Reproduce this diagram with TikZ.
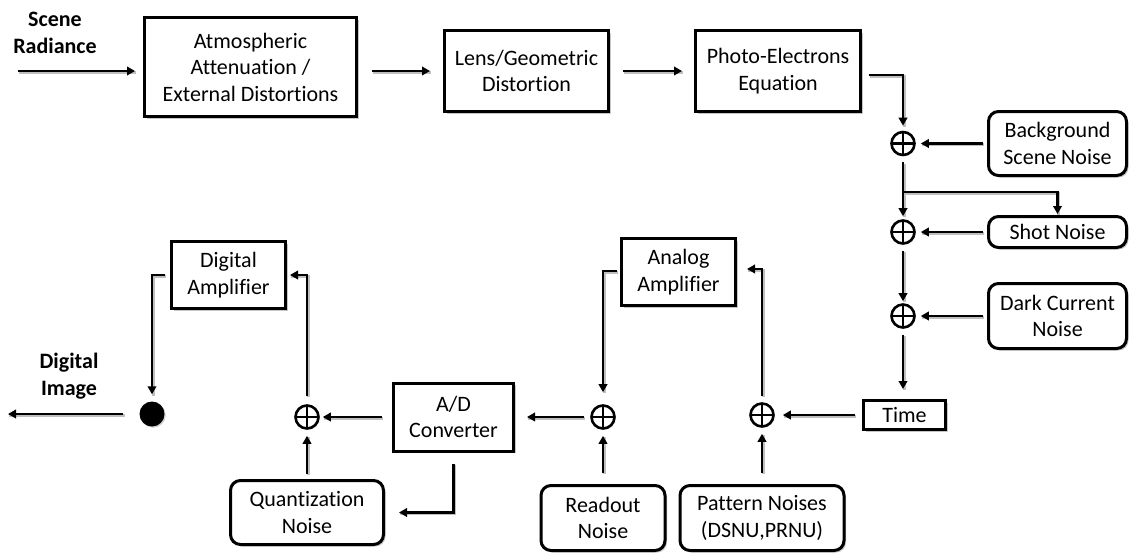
\documentclass[tikz,border=0pt]{standalone}
\usepackage{fontspec}
\setmainfont[Ligatures=NoCommon]{Carlito}
\usetikzlibrary{arrows.meta,shadows}

\begin{document}
\begin{tikzpicture}[x=1pt,y=-1pt,
  lbl/.style={font={\fontsize{22}{26.5}\selectfont}, align=center},
  boldlbl/.style={font={\fontsize{22}{26.5}\selectfont\bfseries}, align=center},
  blk/.style={lbl, draw, line width=3pt, inner sep=0pt, fill=white,
    drop shadow={shadow xshift=2pt, shadow yshift=-2pt, fill=black!50, opacity=0.45}},
  sqbox/.style={blk},
  rbox/.style={blk, rounded corners=10pt},
  sumnode/.style={circle, draw, line width=2.6pt, minimum size=23pt, inner sep=0pt, fill=white,
    drop shadow={shadow xshift=1.2pt, shadow yshift=-1.2pt, fill=black!45, opacity=0.4},
    path picture={\draw[line width=2.6pt]
      (path picture bounding box.north) -- (path picture bounding box.south)
      (path picture bounding box.west) -- (path picture bounding box.east);}},
  conn/.style={line width=2.8pt, -{Triangle[length=8pt,width=8.5pt]},
    preaction={draw=black!25, line width=2.8pt, -, transform canvas={shift={(1.2pt,-1.2pt)}}}},
]
\useasboundingbox (0,0) rectangle (1129,554);

% input label and optical chain
\node[boldlbl] (scene) at (55,33) {Scene\\Radiance};
\coordinate (src) at (18,71);
\node[sqbox, minimum width=212pt, minimum height=99pt] (atm) at (250.5,67)
  {Atmospheric\\Attenuation /\\External Distortions};
\node[sqbox, minimum width=164pt, minimum height=81pt] (lens) at (526.5,71)
  {Lens/Geometric\\Distortion};
\node[sqbox, minimum width=165pt, minimum height=81pt] (pe) at (778,71)
  {Photo-Electrons\\Equation};

% sensor noise column
\node[sumnode] (s1) at (903,143.5) {};
\node[sumnode] (s2) at (903,232) {};
\node[sumnode] (s3) at (903,316) {};
\node[rbox, minimum width=138pt, minimum height=64pt] (bg) at (1057.5,143.5)
  {Background\\Scene Noise};
\node[rbox, minimum width=138pt, minimum height=31pt] (shot) at (1057.5,232)
  {Shot Noise};
\node[rbox, minimum width=138pt, minimum height=65pt] (dark) at (1057.5,316)
  {Dark Current\\Noise};
\node[sqbox, minimum width=82pt, minimum height=29pt] (time) at (904.5,415) {Time};
\path (s1) ++(0,48.5) coordinate (br);

% readout chain
\node[sumnode] (s4) at (762,415) {};
\node[sumnode] (s5) at (603,417) {};
\node[sumnode] (s6) at (307,417) {};
\node[sqbox, minimum width=114pt, minimum height=67pt] (analog) at (678.5,272)
  {Analog\\Amplifier};
\node[sqbox, minimum width=114pt, minimum height=67pt] (dig) at (228.5,275)
  {Digital\\Amplifier};
\node[sqbox, minimum width=120pt, minimum height=68pt] (ad) at (453.5,417)
  {A/D\\Converter};
\node[rbox, minimum width=153pt, minimum height=64pt] (quant) at (307,512.5)
  {Quantization\\Noise};
\node[rbox, minimum width=124pt, minimum height=65pt] (readout) at (603,518)
  {Readout\\Noise};
\node[rbox, minimum width=164pt, minimum height=65pt] (pattern) at (762,518)
  {Pattern Noises\\(DSNU,PRNU)};

% output
\node[circle, fill=black, minimum size=25pt, inner sep=0pt,
  drop shadow={shadow xshift=1.2pt, shadow yshift=-1.2pt, fill=black!45, opacity=0.4}] (dot) at (152,414) {};
\node[boldlbl] (outlbl) at (69,376) {Digital\\Image};
\coordinate (dst) at (8,414);

% connectors
\draw[conn, shorten >=8pt] (src) -- (src -| atm.west);
\draw[conn, shorten <=14pt, shorten >=13pt] (atm.east |- lens.west) -- (lens.west);
\draw[conn, shorten <=13pt, shorten >=12pt] (lens.east) -- (pe.west);
\draw[conn, shorten <=7pt, shorten >=5pt] ([yshift=-4pt]pe.east) -| (s1.north);
\draw[conn, shorten <=4pt, shorten >=5pt] (bg.west) -- (s1.east);
\draw[conn, shorten <=6pt, shorten >=3pt] (s1.south) -- (s2.north);
\draw[conn, shorten >=1pt] (br) -| (shot.north);
\draw[conn, shorten <=4pt, shorten >=5pt] (shot.west) -- (s2.east);
\draw[conn, shorten <=6pt, shorten >=2pt] (s2.south) -- (s3.north);
\draw[conn, shorten <=4pt, shorten >=5pt] (dark.west) -- (s3.east);
\draw[conn, shorten <=6pt, shorten >=10pt] (s3.south) -- (s3.south |- time.north);
\draw[conn, shorten <=7pt, shorten >=8pt] (time.west) -- (s4.east);
\draw[conn, shorten <=11pt, shorten >=6pt] (pattern.north) -- (s4.south);
\draw[conn, shorten <=6pt, shorten >=10pt] (s4.north) |- ([yshift=3pt]analog.east);
\draw[conn, shorten <=3pt, shorten >=12pt] ([yshift=1pt]analog.west) -| (s5.north);
\draw[conn, shorten <=11pt, shorten >=6pt] (readout.north) -- (s5.south);
\draw[conn, shorten <=6pt, shorten >=12pt] (s5.west) -- (ad.east);
\draw[conn, shorten <=11pt, shorten >=14pt] (ad.south) |- (quant.east);
\draw[conn, shorten <=5pt, shorten >=6pt] (quant.north) -- (s6.south);
\draw[conn, shorten <=10pt, shorten >=3pt] (ad.west) -- (s6.east);
\draw[conn, shorten <=8pt, shorten >=3pt] (s6.north) |- (dig.east);
\draw[conn, shorten <=5pt, shorten >=7pt] (dig.west) -| (dot.north);
\draw[conn, shorten <=16pt] (dot.west) -- (dst);
\end{tikzpicture}
\end{document}
